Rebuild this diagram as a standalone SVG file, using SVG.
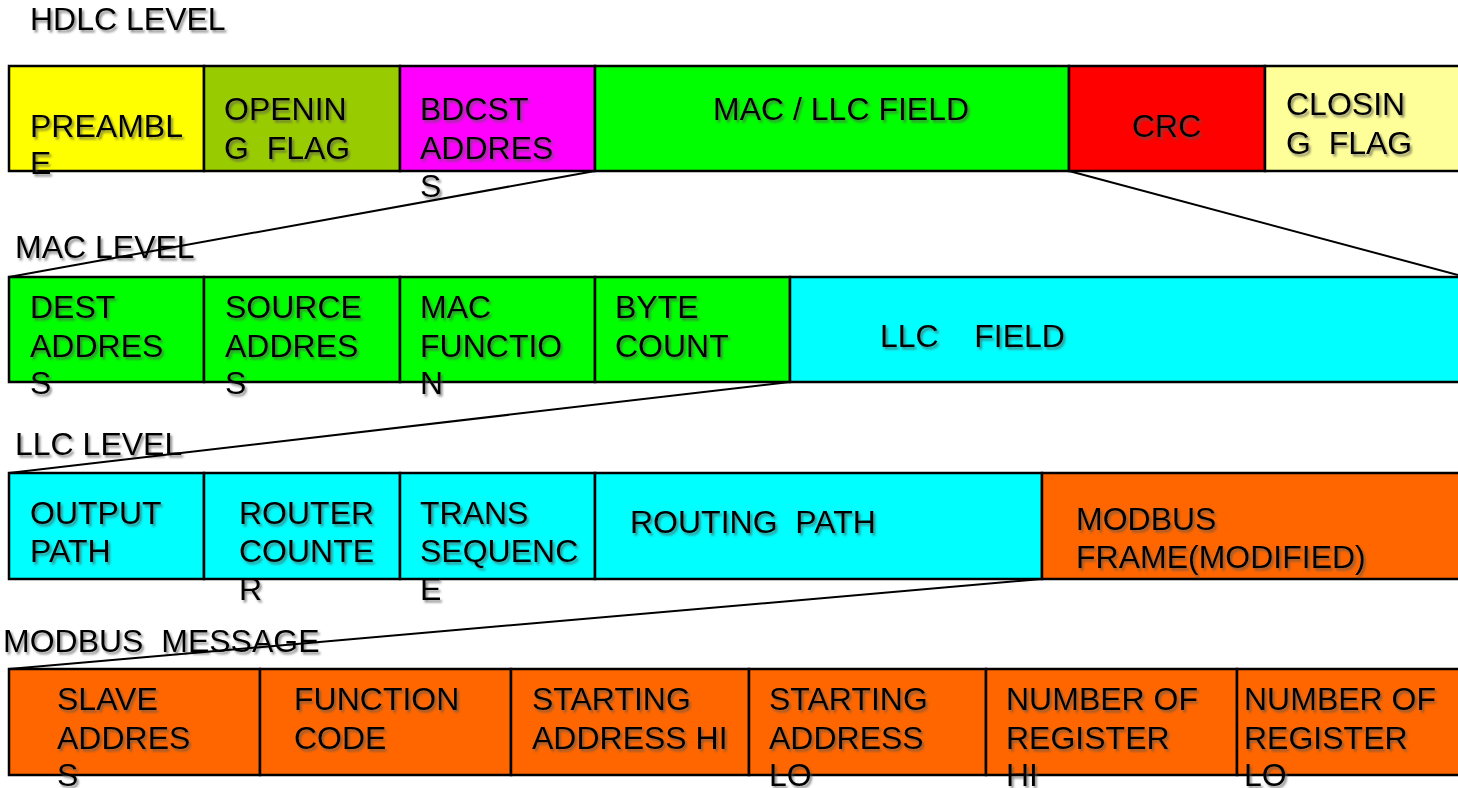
<svg xmlns="http://www.w3.org/2000/svg" width="1458" height="788" viewBox="0 0 1458 788">
<style>
text{font-family:"Liberation Sans",Arial,sans-serif;font-size:32px;fill:#000;filter:url(#sh);white-space:pre}
.cell{stroke:#000;stroke-width:2.5}
.c line{stroke:#000;stroke-width:2}
</style>
<defs>
<filter id="sh" x="-10%" y="-30%" width="130%" height="170%">
<feDropShadow dx="2" dy="2.5" stdDeviation="1.2" flood-color="#555" flood-opacity="0.65"/>
</filter>
</defs>
<rect x="0" y="0" width="1458" height="788" fill="#fff"/>
<text x="30" y="30">HDLC LEVEL</text>
<text x="15" y="258">MAC LEVEL</text>
<text x="15" y="455">LLC LEVEL</text>
<text x="3" y="652" xml:space="preserve">MODBUS  MESSAGE</text>

<g id="hdlc">
<g id="preamble"><rect class="cell" x="9" y="66" width="195" height="105" fill="#FFFF00"/><text x="30" y="137">PREAMBL</text><text x="30" y="174">E</text></g>
<g id="opening"><rect class="cell" x="204" y="66" width="196" height="105" fill="#99CC00"/><text x="224" y="120">OPENIN</text><text x="224" y="159" xml:space="preserve">G  FLAG</text></g>
<g id="bdcst"><rect class="cell" x="400" y="66" width="195" height="105" fill="#FF00FF"/><text x="420" y="120">BDCST</text><text x="420" y="159">ADDRES</text><text x="420" y="197">S</text></g>
<g id="maclcc"><rect class="cell" x="595" y="66" width="474" height="105" fill="#00FF00"/><text x="713" y="120">MAC / LLC FIELD</text></g>
<g id="crc"><rect class="cell" x="1069" y="66" width="196" height="105" fill="#FF0000"/><text x="1132" y="137">CRC</text></g>
<g id="closing"><rect class="cell" x="1265" y="66" width="200" height="105" fill="#FFFF99"/><text x="1286" y="115">CLOSIN</text><text x="1286" y="154" xml:space="preserve">G  FLAG</text></g>
</g>

<g id="mac">
<g id="dest"><rect class="cell" x="9" y="277" width="195" height="105" fill="#00FF00"/><text x="30" y="318">DEST</text><text x="30" y="357">ADDRES</text><text x="30" y="394">S</text></g>
<g id="source"><rect class="cell" x="204" y="277" width="196" height="105" fill="#00FF00"/><text x="225" y="318">SOURCE</text><text x="225" y="357">ADDRES</text><text x="225" y="394">S</text></g>
<g id="macfn"><rect class="cell" x="400" y="277" width="195" height="105" fill="#00FF00"/><text x="420" y="318">MAC</text><text x="420" y="357">FUNCTIO</text><text x="420" y="394">N</text></g>
<g id="bytecount"><rect class="cell" x="595" y="277" width="195" height="105" fill="#00FF00"/><text x="615" y="318">BYTE</text><text x="615" y="357">COUNT</text></g>
<g id="llcfield"><rect class="cell" x="790" y="277" width="675" height="105" fill="#00FFFF"/><text x="880" y="347" xml:space="preserve">LLC    FIELD</text></g>
</g>

<g id="llc">
<g id="output"><rect class="cell" x="9" y="473" width="195" height="106" fill="#00FFFF"/><text x="30" y="524">OUTPUT</text><text x="30" y="562">PATH</text></g>
<g id="router"><rect class="cell" x="204" y="473" width="196" height="106" fill="#00FFFF"/><text x="239" y="524">ROUTER</text><text x="239" y="562">COUNTE</text><text x="239" y="600">R</text></g>
<g id="trans"><rect class="cell" x="400" y="473" width="195" height="106" fill="#00FFFF"/><text x="420" y="524">TRANS</text><text x="420" y="562">SEQUENC</text><text x="420" y="600">E</text></g>
<g id="routing"><rect class="cell" x="595" y="473" width="447" height="106" fill="#00FFFF"/><text x="630" y="533" xml:space="preserve">ROUTING  PATH</text></g>
<g id="modbusframe"><rect class="cell" x="1042" y="473" width="423" height="106" fill="#FF6600"/><text x="1076" y="530">MODBUS</text><text x="1076" y="568">FRAME(MODIFIED)</text></g>
</g>

<g id="modbus">
<g id="slave"><rect class="cell" x="9" y="669" width="251" height="106" fill="#FF6600"/><text x="57" y="710">SLAVE</text><text x="57" y="749">ADDRES</text><text x="57" y="786">S</text></g>
<g id="function"><rect class="cell" x="260" y="669" width="251" height="106" fill="#FF6600"/><text x="294" y="710">FUNCTION</text><text x="294" y="749">CODE</text></g>
<g id="starthi"><rect class="cell" x="511" y="669" width="238" height="106" fill="#FF6600"/><text x="532" y="710">STARTING</text><text x="532" y="749">ADDRESS HI</text></g>
<g id="startlo"><rect class="cell" x="749" y="669" width="237" height="106" fill="#FF6600"/><text x="769" y="710">STARTING</text><text x="769" y="749">ADDRESS</text><text x="769" y="786">LO</text></g>
<g id="numhi"><rect class="cell" x="986" y="669" width="251" height="106" fill="#FF6600"/><text x="1006" y="710">NUMBER OF</text><text x="1006" y="749">REGISTER</text><text x="1006" y="786">HI</text></g>
<g id="numlo"><rect class="cell" x="1237" y="669" width="228" height="106" fill="#FF6600"/><text x="1244" y="710">NUMBER OF</text><text x="1244" y="749">REGISTER</text><text x="1244" y="786">LO</text></g>
</g>

<g id="connectors" class="c">
<line x1="595" y1="171" x2="9" y2="277"/>
<line x1="1069" y1="171" x2="1458" y2="275"/>
<line x1="790" y1="382" x2="9" y2="473"/>
<line x1="1042" y1="579" x2="9" y2="669"/>
</g>
</svg>
